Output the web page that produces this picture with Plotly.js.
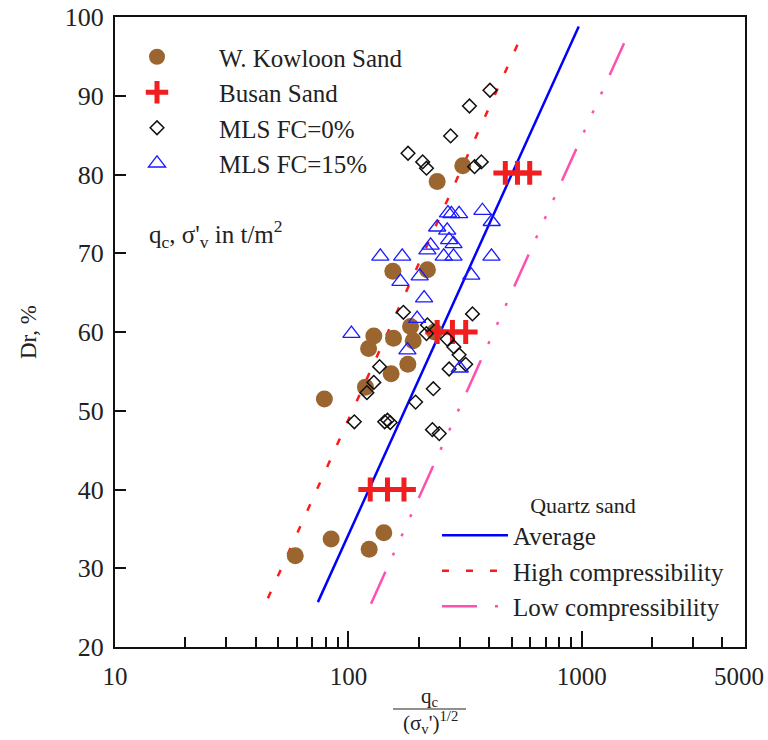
<!DOCTYPE html>
<html>
<head>
<meta charset="utf-8">
<script src="https://cdn.plot.ly/plotly-3.0.1.min.js"></script>
<style>html,body{margin:0;padding:0;background:#fff;}#chart{width:768px;height:740px;}</style>
</head>
<body>
<div id="chart"></div>
<script>
// ---- data ----
const kowloonX = [309, 240, 155, 218, 128.5, 122, 156, 184.6, 189.5, 234, 179.7, 152.4, 118.3, 78.9, 59.2, 84.3, 122.7, 141.8];
const kowloonY = [81.1, 79.1, 67.7, 67.9, 59.5, 57.9, 59.2, 60.7, 58.9, 60.0, 55.9, 54.7, 53.0, 51.5, 31.6, 33.7, 32.4, 34.5];

const busanX = [470, 530, 598, 240, 279, 318, 124, 147, 173];
const busanY = [80.2, 80.2, 80.2, 60.0, 60.0, 60.0, 40.0, 40.0, 40.0];

const mls0X = [404, 330, 274, 180, 208, 216, 347, 371, 172, 340, 218, 216, 265, 283, 298, 318, 270, 136, 128.5, 120, 231, 194, 106, 143, 147, 151, 229, 245];
const mls0Y = [90.7, 88.7, 84.9, 82.7, 81.6, 80.8, 81.0, 81.6, 62.5, 62.3, 60.9, 59.8, 59.1, 58.1, 57.1, 55.9, 55.3, 55.6, 53.6, 52.3, 52.8, 51.1, 48.6, 48.6, 48.8, 48.5, 47.6, 47.1];

const mls15X = [267, 276, 298, 375, 411, 240, 265, 270, 282, 225, 218, 137, 170, 256, 282, 410, 167, 202, 336, 211, 103, 197, 179, 300];
const mls15Y = [75.1, 75.0, 75.0, 75.4, 74.0, 73.3, 72.9, 71.7, 71.2, 71.0, 70.4, 69.6, 69.6, 69.6, 69.6, 69.6, 66.4, 67.1, 67.2, 64.3, 59.8, 61.7, 57.7, 55.4];

const avgX = [74, 970];   const avgY = [25.7, 98.8];
const highX = [45.2, 557]; const highY = [26.2, 97.9];
const lowX = [125, 1611];  const lowY = [25.5, 98.4];

const xTickVals = [10, 100, 1000, 5000];
const xTickText = ['10', '100', '1000', ''];   // the 5000 label is drawn as an annotation so it stays inside the page
const xLastTickLabel = '5000';
const xMinorVals = [20, 30, 40, 50, 60, 70, 80, 90, 200, 300, 400, 500, 600, 700, 800, 900, 2000, 3000, 4000];

const seriesNames = ['W. Kowloon Sand', 'Busan Sand', 'MLS FC=0%', 'MLS FC=15%'];
const lineNames = ['Average', 'High compressibility', 'Low compressibility'];

// ---- traces ----
const FONT = 'Liberation Serif, Times New Roman, serif';
const traces = [
  {x: avgX, y: avgY, mode: 'lines', name: lineNames[0], legend: 'legend2',
   line: {color: '#0000ff', width: 2.5}},
  {x: highX, y: highY, mode: 'lines', name: lineNames[1], legend: 'legend2',
   line: {color: '#ff1a1a', width: 2.5, dash: '7px,17px'}},
  {x: lowX, y: lowY, mode: 'lines', name: lineNames[2], legend: 'legend2',
   line: {color: '#ff4fb0', width: 2.5, dash: '35px,18px,3px,18px,3px,18px,3px,18px'}},
  {x: kowloonX, y: kowloonY, mode: 'markers', name: seriesNames[0],
   marker: {symbol: 'circle', size: 17, color: '#9b6530', line: {width: 0}}},
  {x: busanX, y: busanY, mode: 'markers', name: seriesNames[1],
   marker: {symbol: 'cross-thin', size: 17, color: '#f01e1e', line: {width: 5, color: '#f01e1e'}}},
  {x: mls0X, y: mls0Y, mode: 'markers', name: seriesNames[2],
   marker: {symbol: 'diamond-open', size: 10.5, color: '#111', line: {width: 1.5, color: '#111'}}},
  {x: mls15X, y: mls15Y, mode: 'markers', name: seriesNames[3],
   marker: {symbol: 'triangle-up-open', size: 15, color: '#1a1aff', line: {width: 1.3, color: '#1a1aff'}}}
];

const L = 115, R = 745, T = 17, B = 647;
const px2x = p => (p - L) / (R - L);
const py2y = p => (B - p) / (B - T);

const layout = {
  width: 768, height: 740,
  margin: {l: L, r: 768 - R, t: T, b: 740 - B, pad: 0},
  paper_bgcolor: '#fff', plot_bgcolor: '#fff',
  font: {family: FONT, color: '#222', size: 25},
  showlegend: true,
  xaxis: {
    type: 'log', range: [1, 3.6990],
    tickmode: 'array', tickvals: xTickVals, ticktext: xTickText,
    ticks: 'inside', ticklen: 16, tickwidth: 2, tickcolor: '#111',
    ticklabelstandoff: 6,
    showline: true, linewidth: 2, linecolor: '#111', mirror: true,
    showgrid: false, zeroline: false,
    tickfont: {family: FONT, size: 25, color: '#222'},
    minor: {tickmode: 'array', tickvals: xMinorVals, ticks: 'inside', ticklen: 10, tickwidth: 2, tickcolor: '#111', showgrid: false}
  },
  yaxis: {
    range: [20, 100], tick0: 20, dtick: 10,
    ticks: 'inside', ticklen: 11, tickwidth: 2, tickcolor: '#111',
    ticklabelstandoff: 4,
    showline: true, linewidth: 2, linecolor: '#111', mirror: true,
    showgrid: false, zeroline: false,
    tickfont: {family: FONT, size: 26, color: '#222'},
    title: {text: 'Dr, %', font: {family: FONT, size: 23, color: '#222'}, standoff: 22}
  },
  legend: {
    x: px2x(95), y: py2y(34), xanchor: 'left', yanchor: 'top',
    bgcolor: 'rgba(0,0,0,0)', borderwidth: 0, itemwidth: 114, tracegroupgap: 0,
    font: {family: FONT, size: 25, color: '#222'}
  },
  legend2: {
    x: px2x(437), y: py2y(484), xanchor: 'left', yanchor: 'top',
    bgcolor: 'rgba(0,0,0,0)', borderwidth: 0, itemwidth: 66, tracegroupgap: 0,
    font: {family: FONT, size: 25, color: '#222'},
    title: {text: 'Quartz sand', side: 'top center', font: {family: FONT, size: 22, color: '#222'}}
  },
  annotations: [
    {xref: 'paper', yref: 'paper', x: px2x(147), y: py2y(234), xanchor: 'left', yanchor: 'middle',
     text: "q<sub>c</sub>, σ'<sub>v</sub> in t/m<sup>2</sup>", showarrow: false,
     font: {family: FONT, size: 25, color: '#222'}},
    {xref: 'paper', yref: 'paper', x: px2x(739), y: py2y(676), xanchor: 'center', yanchor: 'middle',
     text: xLastTickLabel, showarrow: false, font: {family: FONT, size: 25, color: '#222'}},
    {xref: 'paper', yref: 'paper', x: px2x(430), y: py2y(697), xanchor: 'center', yanchor: 'middle',
     text: 'q<sub>c</sub>', showarrow: false, font: {family: FONT, size: 21, color: '#222'}},
    {xref: 'paper', yref: 'paper', x: px2x(430), y: py2y(722), xanchor: 'center', yanchor: 'middle',
     text: "(σ<sub>v</sub>')<sup>1/2</sup>", showarrow: false, font: {family: FONT, size: 21, color: '#222'}}
  ],
  shapes: [
    {type: 'line', xref: 'paper', yref: 'paper', x0: px2x(393), x1: px2x(466), y0: py2y(709), y1: py2y(709),
     line: {color: '#222', width: 1.2}}
  ]
};

Plotly.newPlot('chart', traces, layout, {displayModeBar: false, staticPlot: true});
</script>
</body>
</html>
